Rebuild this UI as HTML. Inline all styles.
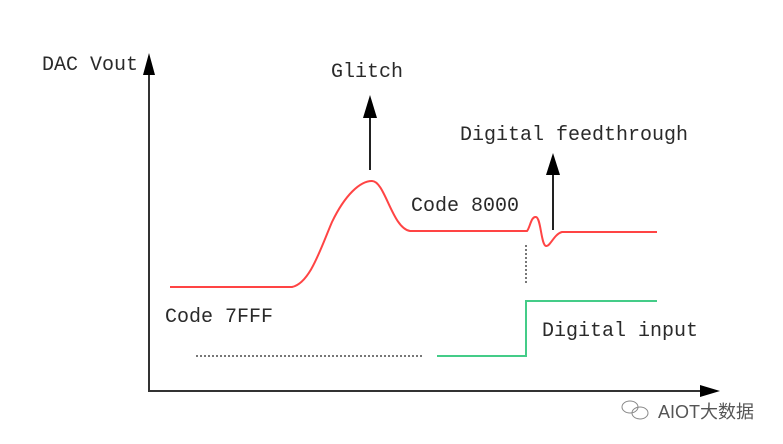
<!DOCTYPE html>
<html><head><meta charset="utf-8"><style>
html,body{margin:0;padding:0;background:#fff;}
svg{display:block;}
.t{font-family:"Liberation Mono",monospace;font-size:20px;fill:#2a2a2a;}
</style></head><body>
<svg width="783" height="444" viewBox="0 0 783 444">
<line x1="149" y1="72" x2="149" y2="392" stroke="#333" stroke-width="2"/>
<polygon points="149,53 143,75 155,75" fill="#000"/>
<line x1="148" y1="391" x2="702" y2="391" stroke="#333" stroke-width="2"/>
<polygon points="720,391 700,385 700,397" fill="#000"/>
<path d="M170,287 L292,287 C310,283 320,250 332,222 C345,195 360,181 372,181 C385,181 392,228 410,231 L527,231 C530,228 531,216 536,217 C541,218 541,245 546,246 C550,247 554,234 562,232 L657,232" fill="none" stroke="#f44" stroke-width="2"/>
<line x1="370" y1="170" x2="370" y2="115" stroke="#222" stroke-width="2"/>
<polygon points="370,95 363,118 377,118" fill="#000"/>
<line x1="553" y1="230" x2="553" y2="172" stroke="#222" stroke-width="2"/>
<polygon points="553,153 546,175 560,175" fill="#000"/>
<line x1="526" y1="245" x2="526" y2="285" stroke="#777" stroke-width="2" stroke-dasharray="2,2"/>
<line x1="196" y1="356" x2="424" y2="356" stroke="#777" stroke-width="2" stroke-dasharray="2,2"/>
<path d="M437,356 L526,356 L526,301 L657,301" fill="none" stroke="#4c8" stroke-width="2"/>
<text class="t" x="42" y="70">DAC Vout</text>
<text class="t" x="331" y="77">Glitch</text>
<text class="t" x="460" y="140">Digital feedthrough</text>
<text class="t" x="411" y="211">Code 8000</text>
<text class="t" x="165" y="322">Code 7FFF</text>
<text class="t" x="542" y="336">Digital input</text>
<g fill="none" stroke="#888" stroke-width="1">
<ellipse cx="630" cy="407" rx="8" ry="6"/>
<ellipse cx="640" cy="413" rx="8" ry="6"/>
</g>
<text x="658" y="418" style="font-family:'Liberation Sans','Noto Sans CJK SC',sans-serif;font-size:18px;fill:#555;">AIOT大数据</text>
</svg>
</body></html>
